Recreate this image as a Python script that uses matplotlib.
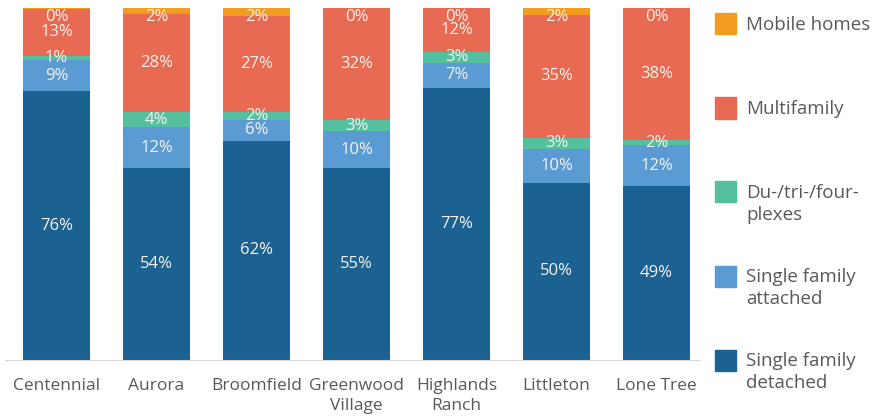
import numpy as np
import matplotlib.pyplot as plt
from matplotlib.patches import Rectangle

plt.rcParams['font.family'] = ['Open Sans', 'DejaVu Sans']

# Data (share of housing units, %)
cities = ["Centennial", "Aurora", "Broomfield", "Greenwood\nVillage",
          "Highlands\nRanch", "Littleton", "Lone Tree"]
sf_detached = [76.3, 54.5, 62.3, 54.6, 77.3, 50.4, 49.4]
sf_attached = [8.8, 11.6, 5.8, 10.4, 7.1, 9.6, 11.6]
plexes = [1.4, 4.3, 2.3, 3.1, 3.1, 3.2, 1.5]
multifamily = [13.2, 27.8, 27.3, 31.8, 12.4, 34.8, 37.5]
mobile = [0.3, 1.7, 2.3, 0.1, 0.1, 2.0, 0.0]

series = [
    ("Single family\ndetached", sf_detached, "#1b6191"),
    ("Single family\nattached", sf_attached, "#5b9bd3"),
    ("Du-/tri-/four-\nplexes", plexes, "#55c0a0"),
    ("Multifamily", multifamily, "#e96a52"),
    ("Mobile homes", mobile, "#f29d21"),
]

fig = plt.figure(figsize=(8.84, 4.19), dpi=100)
ax = fig.add_axes([5 / 884, 59 / 419, 695 / 884, 352 / 419])

x = np.arange(len(cities))
bottom = np.zeros(len(cities))
for i, (name, vals, color) in enumerate(series):
    vals = np.array(vals)
    ax.bar(x, vals, 0.67, bottom=bottom, color=color, linewidth=0)
    for xi, b, v in zip(x, bottom, vals):
        if name == "Mobile homes":
            ypos = 97.5
        else:
            ypos = b + v / 2
        ax.text(xi, ypos, f"{round(v):d}%", ha="center", va="center",
                color="#f7f3ef", fontsize=12)
    bottom += vals

ax.set_xlim(-0.515, 6.435)
ax.set_ylim(0, 100)
ax.set_yticks([])
ax.set_xticks(x)
ax.set_xticklabels(cities, color="#595959", fontsize=12.5, linespacing=1.35)
ax.tick_params(axis="x", length=0, pad=13)
for side in ["top", "right", "left"]:
    ax.spines[side].set_visible(False)
ax.spines["bottom"].set_color("#d9d9d9")

# Legend drawn on the figure, top to bottom
legend_y = [24, 108, 192, 276, 360]
for (name, vals, color), yc in zip(series[::-1], legend_y):
    fig.patches.append(Rectangle((715 / 884, 1 - (yc + 10.5) / 419), 21 / 884, 21 / 419,
                                 transform=fig.transFigure, color=color))
    fig.text(746 / 884, 1 - (yc - 8) / 419, name, ha="left", va="top",
             color="#595959", fontsize=13.5, linespacing=1.25)

fig.savefig("out.png", dpi=100)
